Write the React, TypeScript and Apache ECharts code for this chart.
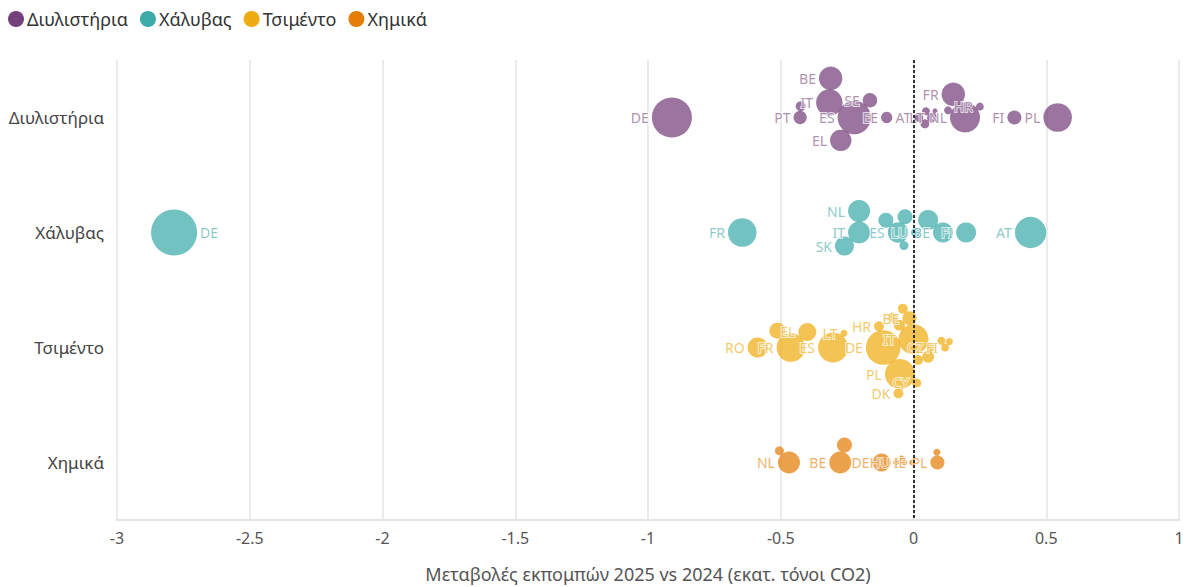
import React, { useEffect, useRef } from 'react';
import * as echarts from 'echarts';

// ---------- data ----------
const sectors = ['Διυλιστήρια', 'Χάλυβας', 'Τσιμέντο', 'Χημικά'];

// change in emissions 2025 vs 2024 (Mt CO2) and emissions size (Mt CO2); '' = unlabeled country
const refineryCodes = ['DE', 'ES', 'IT', 'EL', 'BE', 'PT', '', 'SE', 'EE', 'NL', 'FR', 'HR', 'PL', 'FI', 'AT', 'LT', '', '', '', ''];
const refineryChange = [-0.91, -0.223, -0.317, -0.274, -0.312, -0.427, -0.425, -0.164, -0.101, 0.194, 0.15, 0.25, 0.543, 0.38, 0.02, 0.07, 0.047, 0.043, 0.081, 0.13];
const refineryEmissions = [22.7, 15.8, 10.0, 6.5, 7.8, 2.5, 1.4, 3.0, 1.8, 12.8, 7.8, 0.9, 11.6, 2.8, 1.15, 1.4, 0.9, 1.15, 0.35, 0.9];

const steelCodes = ['DE', 'FR', 'AT', 'IT', 'NL', 'SK', 'ES', 'LU', 'BE', 'FI', '', '', '', ''];
const steelChange = [-2.785, -0.645, 0.441, -0.205, -0.205, -0.26, -0.058, 0.01, 0.111, 0.198, -0.104, -0.032, -0.036, 0.055];
const steelEmissions = [30.0, 11.6, 14.0, 6.9, 6.9, 5.1, 6.0, 1.4, 5.7, 5.7, 3.2, 3.2, 1.15, 5.7];

const cementCodes = ['DE', 'IT', 'PL', 'ES', 'FR', 'RO', 'EL', '', 'LT', 'HR', 'BE', '', '', 'CZ', 'FI', '', '', '', '', 'CY', '', 'DK'];
const cementChange = [-0.114, 0.0, -0.051, -0.303, -0.462, -0.587, -0.4, -0.513, -0.262, -0.13, -0.015, -0.04, -0.053, 0.065, 0.119, 0.105, 0.135, 0.055, 0.017, 0.012, -0.078, -0.057];
const cementEmissions = [17.0, 12.8, 12.8, 12.8, 11.6, 5.7, 4.6, 3.6, 0.7, 1.4, 2.8, 1.4, 1.7, 0.9, 0.9, 0.9, 0.7, 2.0, 1.4, 1.15, 1.4, 1.4];

const chemicalCodes = ['NL', '', 'BE', '', 'DE', 'HU', 'IE', 'PL', '', '', ''];
const chemicalChange = [-0.469, -0.505, -0.276, -0.26, -0.12, -0.065, -0.005, 0.09, 0.088, -0.035, -0.045];
const chemicalEmissions = [6.9, 1.15, 6.9, 3.2, 4.6, 0.5, 0.5, 2.8, 0.7, 0.5, 0.35];

const xTicks = { min: -3, max: 1, interval: 0.5 };
const rightLabelled = ['Χάλυβας:DE'];

// ---------- style / layout ----------
const W = 1184;
const H = 587;
const GRID = { left: 117, right: 5, top: 60, bottom: 67 };
const COLORS = ['#74407a', '#3baaa9', '#eeac10', '#e57e08'];
const LABEL_COLORS = ['#8d6790', '#5cb5b4', '#ecb52f', '#e8922e'];
const FONT = 'Noto Sans';
const R_SCALE = 4.2;
const OVERLAP = 0.97;

const radius = (e: number) => R_SCALE * Math.sqrt(e);

// deterministic greedy beeswarm in pixel space
function swarm(values: number[], emissions: number[]): number[] {
  const pxPerX = (W - GRID.left - GRID.right) / (xTicks.max - xTicks.min);
  const placed: { x: number; y: number; r: number }[] = [];
  const out: number[] = [];
  values.forEach((v, i) => {
    const x = v * pxPerX;
    const r = radius(emissions[i]);
    const cands = [0];
    placed.forEach((q) => {
      const d = (r + q.r) * OVERLAP;
      const dx = x - q.x;
      if (Math.abs(dx) < d) {
        const h = Math.sqrt(d * d - dx * dx);
        cands.push(q.y + h, q.y - h);
      }
    });
    cands.sort((a, b) => Math.abs(a) - Math.abs(b) || a - b);
    let y = cands[cands.length - 1];
    for (const c of cands) {
      const ok = placed.every((q) => {
        const d = (r + q.r) * OVERLAP;
        const dx = x - q.x;
        const dy = c - q.y;
        return dx * dx + dy * dy >= d * d - 1e-6;
      });
      if (ok) {
        y = c;
        break;
      }
    }
    placed.push({ x, y, r });
    out.push(y);
  });
  return out;
}

const groups = [
  { codes: refineryCodes, change: refineryChange, emissions: refineryEmissions },
  { codes: steelCodes, change: steelChange, emissions: steelEmissions },
  { codes: cementCodes, change: cementChange, emissions: cementEmissions },
  { codes: chemicalCodes, change: chemicalChange, emissions: chemicalEmissions },
];

function buildOption() {
  const pxPerRow = (H - GRID.top - GRID.bottom) / sectors.length;
  const series = groups.map((g, row) => {
    const offs = swarm(g.change, g.emissions);
    return {
      name: sectors[row],
      type: 'scatter',
      xAxisIndex: 0,
      yAxisIndex: 1,
      symbol: 'circle',
      symbolSize: (d: number[]) => 2 * radius(d[2]),
      itemStyle: { color: COLORS[row], opacity: 0.72 },
      emphasis: { disabled: true },
      label: {
        show: false,
        formatter: '{b}',
        fontFamily: FONT,
        fontSize: 14,
        color: LABEL_COLORS[row],
        textBorderColor: '#fff',
        textBorderWidth: 2,
        distance: 3,
      },
      data: g.change.map((v, i) => ({
        name: g.codes[i],
        value: [v, row + offs[i] / pxPerRow, g.emissions[i]],
        label: {
          show: g.codes[i] !== '',
          position: rightLabelled.includes(sectors[row] + ':' + g.codes[i]) ? 'right' : 'left',
        },
      })),
      markLine:
        row === 0
          ? {
              silent: true,
              symbol: 'none',
              label: { show: false },
              lineStyle: { type: [3, 2], color: '#333', width: 2 },
              data: [{ xAxis: 0 }],
              z: 10,
            }
          : undefined,
    };
  });

  return {
    animation: false,
    textStyle: { fontFamily: FONT },
    legend: {
      left: 8,
      top: 10,
      padding: 0,
      icon: 'circle',
      itemWidth: 16,
      itemHeight: 16,
      itemGap: 12,
      itemStyle: { opacity: 1 },
      textStyle: { fontSize: 18, color: '#333', fontFamily: FONT, padding: [0, 0, 0, -2] },
      data: sectors,
    },
    grid: {
      left: GRID.left,
      right: GRID.right,
      top: GRID.top,
      bottom: GRID.bottom,
      containLabel: false,
      outerBoundsMode: 'none',
    },
    xAxis: {
      type: 'value',
      min: xTicks.min,
      max: xTicks.max,
      interval: xTicks.interval,
      name: 'Μεταβολές εκπομπών 2025 vs 2024 (εκατ. τόνοι CO2)',
      nameLocation: 'middle',
      nameGap: 45,
      nameTextStyle: { fontSize: 18, color: '#555', fontFamily: FONT },
      axisLine: { show: true, onZero: false, lineStyle: { color: '#e3e3e3', width: 2 } },
      axisTick: { show: false },
      axisLabel: { fontSize: 16, color: '#555', margin: 10, fontFamily: FONT },
      splitLine: { show: true, lineStyle: { color: '#ebebeb', width: 2 } },
    },
    yAxis: [
      {
        type: 'category',
        data: sectors,
        inverse: true,
        axisLine: { show: false },
        axisTick: { show: false },
        splitLine: { show: false },
        axisLabel: { fontSize: 17, color: '#444', margin: 13, fontFamily: FONT },
      },
      {
        type: 'value',
        min: -0.5,
        max: 3.5,
        inverse: true,
        show: false,
        position: 'right',
        splitLine: { show: false },
      },
    ],
    series,
  };
}

export default function App() {
  const ref = useRef<HTMLDivElement>(null);
  useEffect(() => {
    if (!ref.current) return;
    const chart = echarts.init(ref.current, undefined, { renderer: 'svg' });
    chart.setOption(buildOption() as any);
    return () => chart.dispose();
  }, []);
  return (
    <div
      ref={ref}
      style={{ position: 'absolute', left: 0, top: 0, width: W, height: H, background: '#fff' }}
    />
  );
}
